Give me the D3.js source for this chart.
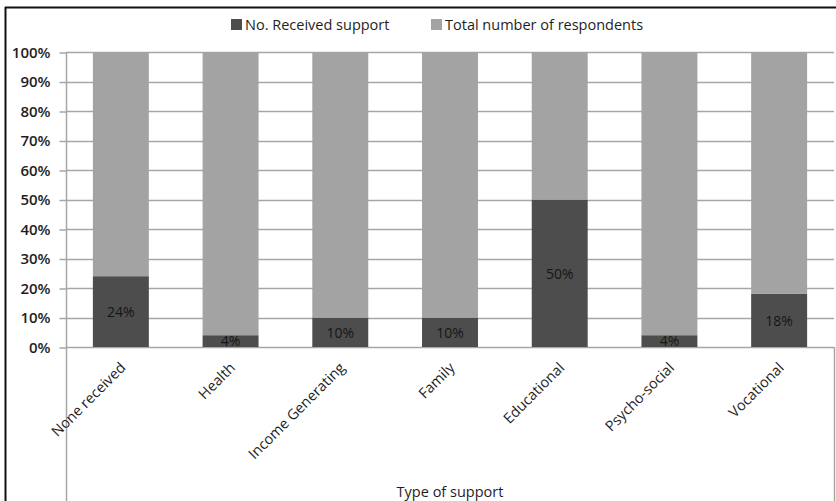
<!DOCTYPE html>
<html><head><meta charset="utf-8">
<script src="https://cdn.jsdelivr.net/npm/d3@7"></script>
<style>
html,body{margin:0;padding:0;background:#fff;}
svg{display:block;font-family:"Open Sans",sans-serif;}
</style></head>
<body><svg id="c" width="836" height="501"></svg>
<script>
const categories = ["None received","Health","Income Generating","Family","Educational","Psycho-social","Vocational"];
const receivedPct = [24,4,10,10,50,4,18];
const totalPct = [76,96,90,90,50,96,82];
const seriesNames = ["No. Received support","Total number of respondents"];
const yTicks = [0,10,20,30,40,50,60,70,80,90,100];
const xTitle = "Type of support";

const colors = ["#4d4d4d","#a3a3a3"];
const svg = d3.select("#c");
const W = 836, H = 501;
const pLeft = 66, pRight = 834, pTop = 52, pBottom = 347;

const x = d3.scaleBand().domain(categories).range([pLeft,pRight]).paddingInner(0.49).paddingOuter(0.245);
const y = d3.scaleLinear().domain([0,100]).range([pBottom,pTop]);

// frame
svg.append("line").attr("x1",5.5).attr("x2",5.5).attr("y1",7).attr("y2",H).attr("stroke","#111").attr("stroke-width",2);
svg.append("line").attr("x1",5).attr("x2",W).attr("y1",7.5).attr("y2",7.5).attr("stroke","#111").attr("stroke-width",2);

// gridlines
svg.append("g").selectAll("line").data(yTicks).join("line")
  .attr("x1",pLeft).attr("x2",pRight)
  .attr("y1",d=>Math.round(y(d))+0.5).attr("y2",d=>Math.round(y(d))+0.5)
  .attr("stroke","#a6a6a6").attr("stroke-width",1.5);

// y axis
const yAxis = svg.append("g").attr("transform",`translate(${pLeft+0.5},0.5)`)
  .call(d3.axisLeft(y).tickValues(yTicks).tickSize(7).tickSizeOuter(0).tickPadding(9).tickFormat(d=>d+"%"));
yAxis.select(".domain").remove();
yAxis.selectAll(".tick line").attr("stroke","#a6a6a6").attr("stroke-width",1.5);
yAxis.selectAll(".tick text").attr("font-size",15).attr("font-family","Open Sans, sans-serif").attr("fill","#1e1e1e").attr("font-weight",600);
svg.append("line").attr("x1",pLeft+0.5).attr("x2",pLeft+0.5).attr("y1",pTop).attr("y2",H).attr("stroke","#a6a6a6").attr("stroke-width",1.5);
svg.append("line").attr("x1",pRight+0.5).attr("x2",pRight+0.5).attr("y1",pBottom).attr("y2",H).attr("stroke","#a6a6a6").attr("stroke-width",1.5);

// stacked bars
const rows = categories.map((c,i)=>({cat:c, a:receivedPct[i], b:totalPct[i]}));
const stack = d3.stack().keys(["a","b"])(rows);
svg.append("g").selectAll("g").data(stack).join("g").attr("fill",(d,i)=>colors[i])
  .selectAll("rect").data(d=>d).join("rect")
  .attr("x",d=>x(d.data.cat)).attr("width",x.bandwidth())
  .attr("y",d=>y(d[1])).attr("height",d=>y(d[0])-y(d[1]));

// bar labels
svg.append("g").selectAll("text").data(stack[0]).join("text")
  .attr("x",d=>x(d.data.cat)+x.bandwidth()/2)
  .attr("y",d=>(y(d[0])+y(d[1]))/2).attr("dy","0.38em")
  .attr("text-anchor","middle").attr("font-size",14).attr("fill","#151515")
  .text(d=>d.data.a+"%");

// x labels
svg.append("g").selectAll("text").data(categories).join("text")
  .attr("transform",d=>`translate(${x(d)+x.bandwidth()/2+2},${pBottom+18}) rotate(-45)`)
  .attr("dy","0.35em").attr("text-anchor","end").attr("font-size",14.5).attr("fill","#1e1e1e")
  .text(d=>d);

// x title
svg.append("text").attr("x",(pLeft+pRight)/2).attr("y",497).attr("text-anchor","middle")
  .attr("font-size",14.5).attr("fill","#1e1e1e").text(xTitle);

// legend
const lg = svg.append("g");
const legendX = [231,431];
seriesNames.forEach((n,i)=>{
  lg.append("rect").attr("x",legendX[i]).attr("y",19).attr("width",11).attr("height",11).attr("fill",colors[i]);
  lg.append("text").attr("x",legendX[i]+14).attr("y",30).attr("font-size",14.5).attr("fill","#1e1e1e").text(n);
});
</script></body></html>
